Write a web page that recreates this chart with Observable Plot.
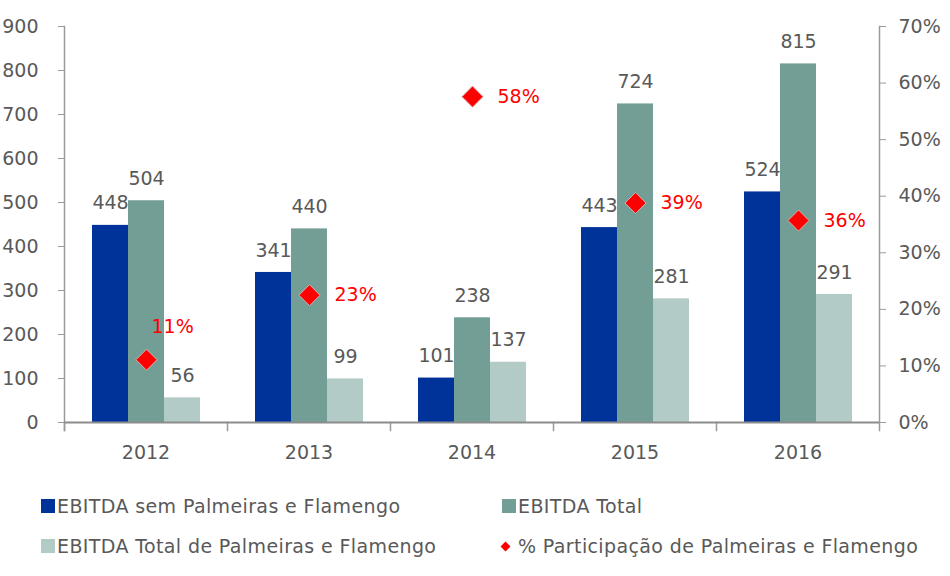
<!DOCTYPE html>
<html><head><meta charset="utf-8">
<script src="https://cdn.jsdelivr.net/npm/d3@7"></script>
<script src="https://cdn.jsdelivr.net/npm/@observablehq/plot@0.6"></script>
<style>
body{margin:0;background:#fff;font-family:"DejaVu Sans",sans-serif;}
#legend{position:relative;height:100px;color:#595959;font-size:19px;width:950px;letter-spacing:0.38px;}
.item{position:absolute;display:flex;align-items:center;white-space:nowrap;line-height:22px;height:22px;}
.sw{width:14px;height:14px;margin-right:2px;}
.dm{width:7px;height:7px;background:#ff0000;transform:rotate(45deg);margin:0 9px 0 1px;}
</style></head><body>
<div id="chart"></div>
<div id="legend"></div>
<script>
const years = ["2012", "2013", "2014", "2015", "2016"];
const seriesNames = ["EBITDA sem Palmeiras e Flamengo", "EBITDA Total", "EBITDA Total de Palmeiras e Flamengo"];
const semPF = [448, 341, 101, 443, 524];
const total = [504, 440, 238, 724, 815];
const totalPF = [56, 99, 137, 281, 291];
const pctName = "% Participação de Palmeiras e Flamengo";
const pct = [11.1, 22.5, 57.6, 38.8, 35.7];
const colors = ["#003399", "#739E95", "#B3CBC6"];
const leftTicks = [0, 100, 200, 300, 400, 500, 600, 700, 800, 900];
const rightTicks = [0, 10, 20, 30, 40, 50, 60, 70];
const yMax = 900, pctMax = 70;

const seriesValues = [semPF, total, totalPF];
const bars = years.flatMap((y, i) => seriesNames.map((s, j) => ({year: y, series: s, value: seriesValues[j][i]})));
const points = years.map((y, i) => ({year: y, series: seriesNames[1], pct: pct[i]}));
const toY = p => p / pctMax * yMax;
const gray = "#595959", axisGray = "#9a9a9a";

const chart = Plot.plot({
  width: 950, height: 476,
  marginLeft: 64, marginRight: 71, marginTop: 26, marginBottom: 54,
  style: {fontFamily: "DejaVu Sans", fontSize: "19px", color: gray, background: "#fff"},
  fx: {domain: years, padding: 0, label: null},
  x: {domain: seriesNames, paddingInner: 0, paddingOuter: 0.74, axis: null},
  y: {domain: [0, yMax], label: null},
  color: {domain: seriesNames, range: colors},
  marks: [
    Plot.axisFx({anchor: "bottom", tickSize: 0, tickPadding: 23, label: null, fill: gray}),
    Plot.axisY({anchor: "left", ticks: leftTicks, tickSize: 6, tickPadding: 20, stroke: axisGray, fill: gray, label: null}),
    Plot.axisY({anchor: "right", ticks: rightTicks.map(toY), tickFormat: d => Math.round(d / yMax * pctMax) + "%", tickSize: 6, tickPadding: 13, stroke: axisGray, fill: gray, label: null}),
    Plot.barY(bars, {fx: "year", x: "series", y: "value", fill: "series"}),
    Plot.frame({anchor: "left", facetAnchor: "left", insetBottom: -8, stroke: axisGray, strokeWidth: 1.5}),
    Plot.frame({anchor: "left", insetTop: 396, insetBottom: -8, stroke: axisGray, strokeWidth: 1.5}),
    Plot.frame({anchor: "right", facetAnchor: "right", insetBottom: -8, stroke: axisGray, strokeWidth: 1.5}),
    Plot.ruleY([0], {stroke: "#8c8c8c", strokeWidth: 2}),
    Plot.text(bars, {fx: "year", x: "series", y: "value", text: "value", dy: -22, fill: gray}),
    Plot.dot(points, {fx: "year", x: "series", y: d => toY(d.pct), symbol: "diamond2", r: 9.5, fill: "#ff0000", stroke: "#d8b0b0", strokeWidth: 1}),
    Plot.text(points.filter(d => d.year !== "2012"), {fx: "year", x: "series", y: d => toY(d.pct), text: d => Math.round(d.pct) + "%", dx: 25, textAnchor: "start", fill: "#ff0000"}),
    Plot.text(points.filter(d => d.year === "2012"), {fx: "year", x: "series", y: d => toY(d.pct), text: d => Math.round(d.pct) + "%", dx: 5, dy: -33, textAnchor: "start", fill: "#ff0000"})
  ]
});
document.getElementById("chart").appendChild(chart);

const legendItems = [
  {label: seriesNames[0], color: colors[0], left: 41, top: 19, kind: "sq"},
  {label: seriesNames[1], color: colors[1], left: 502, top: 19, kind: "sq"},
  {label: seriesNames[2], color: colors[2], left: 41, top: 59, kind: "sq"},
  {label: pctName, color: "#ff0000", left: 501, top: 59, kind: "dm"}
];
const legend = document.getElementById("legend");
for (const it of legendItems) {
  const d = document.createElement("div");
  d.className = "item";
  d.style.left = it.left + "px";
  d.style.top = it.top + "px";
  const s = document.createElement("span");
  s.className = it.kind === "sq" ? "sw" : "dm";
  s.style.background = it.color;
  d.appendChild(s);
  const t = document.createElement("span");
  t.textContent = it.label;
  d.appendChild(t);
  legend.appendChild(d);
}
</script>
</body></html>
